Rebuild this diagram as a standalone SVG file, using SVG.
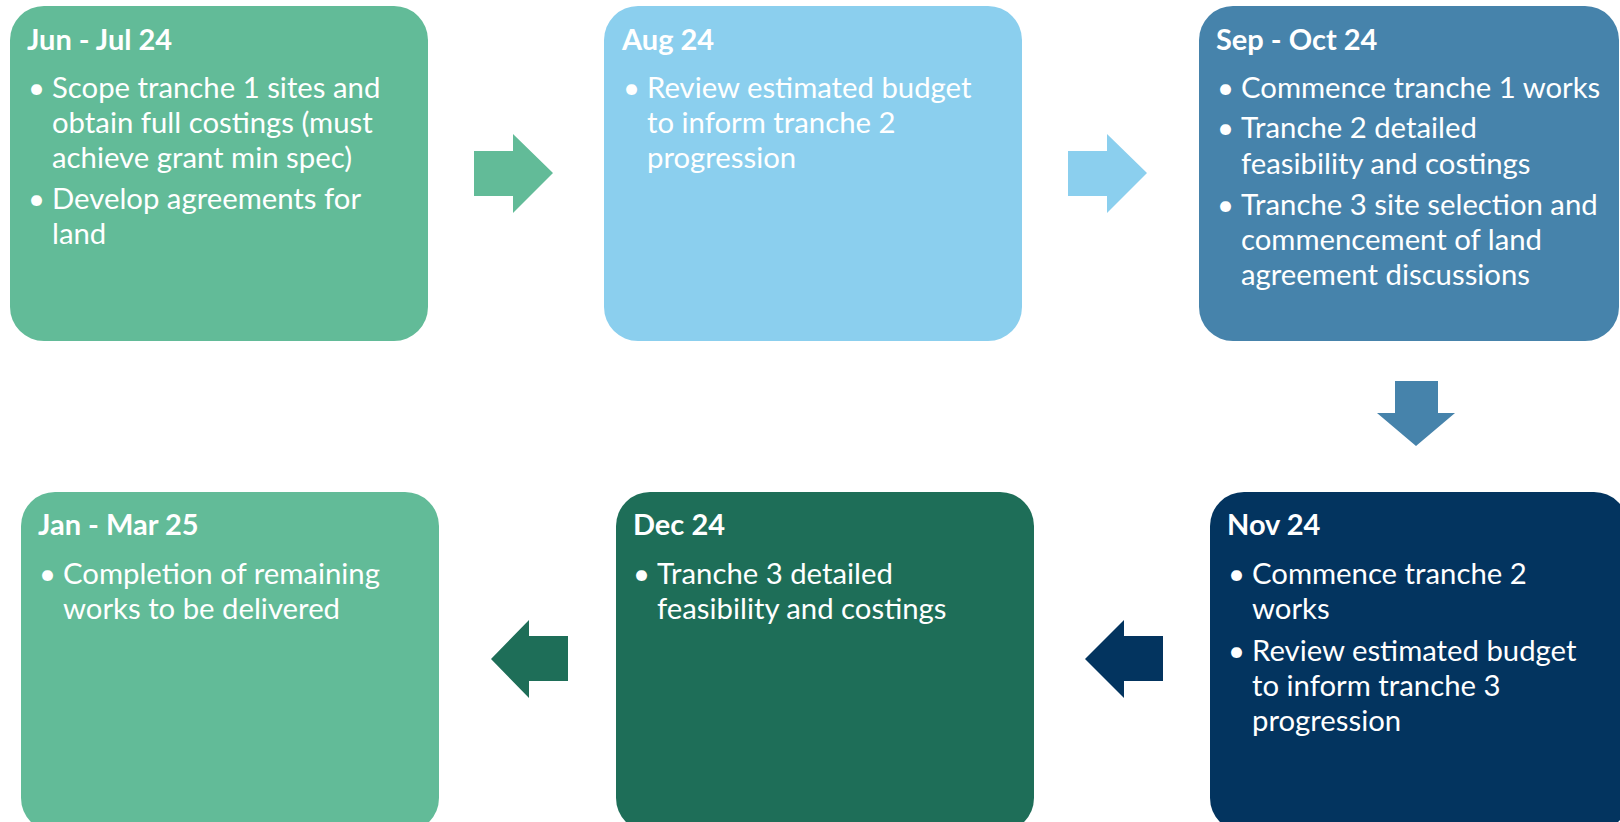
<svg xmlns="http://www.w3.org/2000/svg" width="1620" height="822" viewBox="0 0 1620 822">
<style>
.t{font-family:Lato,"Open Sans","Liberation Sans",sans-serif;fill:#fff;font-size:29.3px}
.h{font-weight:bold;font-size:29px}
</style>
<rect width="1620" height="822" fill="#fff"/>
<g id="connectors">
<polygon points="474,151 513,151 513,134 553,173 513,213 513,196 474,196" fill="#62BB98"/>
<polygon points="1068,151 1107,151 1107,134 1147,173 1107,213 1107,196 1068,196" fill="#8BCFEE"/>
<polygon points="1395,381 1438,381 1438,413 1455,413 1416,446 1377,413 1395,413" fill="#4683AB"/>
<polygon points="1163,636 1124,636 1124,620 1085,659 1124,698 1124,681 1163,681" fill="#03345F"/>
<polygon points="568,636 529,636 529,620 491,659 529,698 529,681 568,681" fill="#1E6E58"/>
</g>
<g id="n1">
<rect x="10" y="6" width="418" height="335" rx="34" fill="#62BB98"/>
<text class="t h" x="27" y="50">Jun - Jul 24</text>
<text class="t" x="28" y="98">•</text>
<text class="t" x="52" y="98">Scope tranche 1 sites and</text>
<text class="t" x="52" y="133">obtain full costings (must</text>
<text class="t" x="52" y="168">achieve grant min spec)</text>
<text class="t" x="28" y="209">•</text>
<text class="t" x="52" y="209">Develop agreements for</text>
<text class="t" x="52" y="244">land</text>
</g>
<g id="n2">
<rect x="604" y="6" width="418" height="335" rx="34" fill="#8BCFEE"/>
<text class="t h" x="622" y="50">Aug 24</text>
<text class="t" x="623" y="98">•</text>
<text class="t" x="647" y="98">Review estimated budget</text>
<text class="t" x="647" y="133">to inform tranche 2</text>
<text class="t" x="647" y="168">progression</text>
</g>
<g id="n3">
<rect x="1199" y="6" width="420" height="335" rx="34" fill="#4683AB"/>
<text class="t h" x="1216" y="50">Sep - Oct 24</text>
<text class="t" x="1217" y="98">•</text>
<text class="t" x="1241" y="98">Commence tranche 1 works</text>
<text class="t" x="1217" y="138">•</text>
<text class="t" x="1241" y="138">Tranche 2 detailed</text>
<text class="t" x="1241" y="174">feasibility and costings</text>
<text class="t" x="1217" y="215">•</text>
<text class="t" x="1241" y="215">Tranche 3 site selection and</text>
<text class="t" x="1241" y="250">commencement of land</text>
<text class="t" x="1241" y="285">agreement discussions</text>
</g>
<g id="n4">
<rect x="1210" y="492" width="418" height="340" rx="34" fill="#03345F"/>
<text class="t h" x="1227" y="535">Nov 24</text>
<text class="t" x="1228" y="584">•</text>
<text class="t" x="1252" y="584">Commence tranche 2</text>
<text class="t" x="1252" y="619">works</text>
<text class="t" x="1228" y="661">•</text>
<text class="t" x="1252" y="661">Review estimated budget</text>
<text class="t" x="1252" y="696">to inform tranche 3</text>
<text class="t" x="1252" y="731">progression</text>
</g>
<g id="n5">
<rect x="616" y="492" width="418" height="340" rx="34" fill="#1E6E58"/>
<text class="t h" x="633" y="535">Dec 24</text>
<text class="t" x="633" y="584">•</text>
<text class="t" x="657" y="584">Tranche 3 detailed</text>
<text class="t" x="657" y="619">feasibility and costings</text>
</g>
<g id="n6">
<rect x="21" y="492" width="418" height="340" rx="34" fill="#62BB98"/>
<text class="t h" x="38" y="535">Jan - Mar 25</text>
<text class="t" x="39" y="584">•</text>
<text class="t" x="63" y="584">Completion of remaining</text>
<text class="t" x="63" y="619">works to be delivered</text>
</g>
</svg>
